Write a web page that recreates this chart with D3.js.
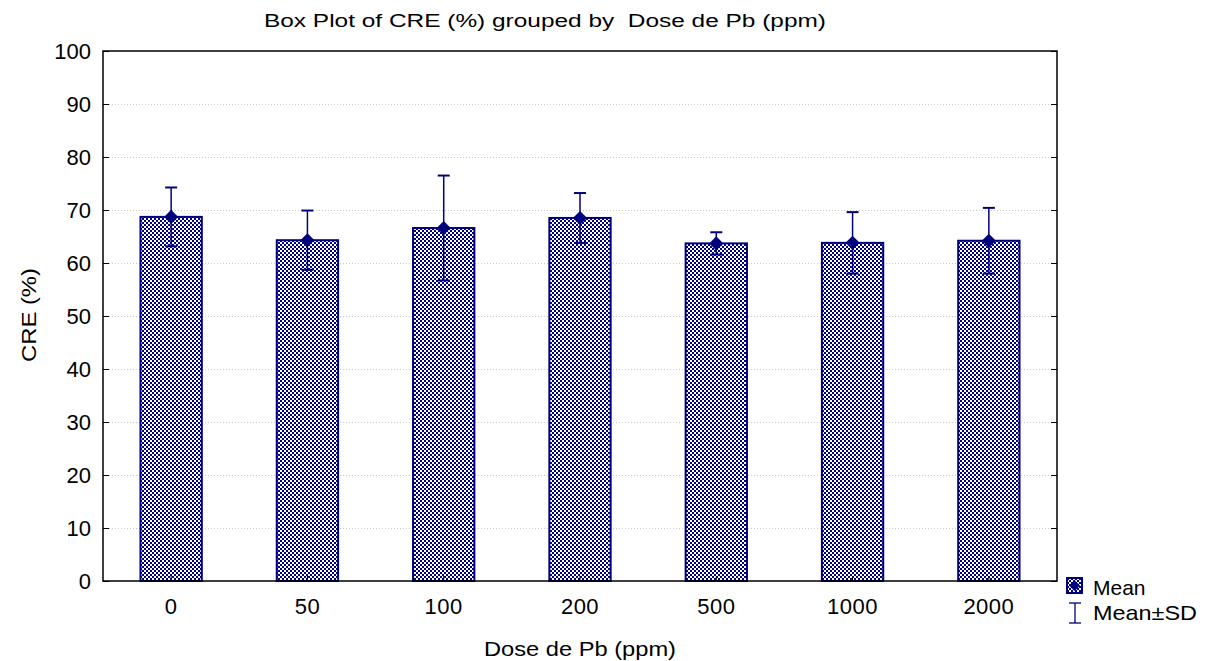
<!DOCTYPE html>
<html>
<head>
<meta charset="utf-8">
<title>Box Plot of CRE (%)</title>
<script src="https://d3js.org/d3.v7.min.js"></script>
<style>
  body { margin: 0; background: #fff; }
  text { font-family: "Liberation Sans", Arial, sans-serif; fill: #000; }
</style>
</head>
<body>
<script>
const width = 1205;
const height = 661;
const marginTop = 51;
const marginRight = 148;
const marginBottom = 80;
const marginLeft = 103;

// data
const doses = ["0", "50", "100", "200", "500", "1000", "2000"];
const means = [68.7, 64.3, 66.6, 68.5, 63.7, 63.8, 64.2];
const sds = [5.55, 5.6, 9.9, 4.7, 2.1, 5.8, 6.2];
const yTicks = [0, 10, 20, 30, 40, 50, 60, 70, 80, 90, 100];

const navy = "#00007f";

const svg = d3.select("body").append("svg")
    .attr("width", width)
    .attr("height", height);

// checker fill like the original
const defs = svg.append("defs");
const pat = defs.append("pattern")
    .attr("id", "checker")
    .attr("patternUnits", "userSpaceOnUse")
    .attr("width", 4).attr("height", 4);
pat.append("rect").attr("width", 4).attr("height", 4).attr("fill", "#fff");
pat.append("rect").attr("width", 2).attr("height", 2).attr("fill", navy);
pat.append("rect").attr("x", 2).attr("y", 2).attr("width", 2).attr("height", 2).attr("fill", navy);

const x = d3.scaleBand()
    .domain(doses)
    .range([marginLeft, width - marginRight])
    .paddingInner(0.55)
    .paddingOuter(0.275);

const y = d3.scaleLinear()
    .domain([0, 100])
    .range([height - marginBottom, marginTop]);

// grid lines
svg.append("g")
  .selectAll("line")
  .data(yTicks.filter(d => d > 0 && d < 100))
  .join("line")
    .attr("x1", marginLeft)
    .attr("x2", width - marginRight)
    .attr("y1", d => y(d) + 0.5)
    .attr("y2", d => y(d) + 0.5)
    .attr("stroke", "#c8c8c8")
    .attr("stroke-dasharray", "1,2");

// bars
svg.append("g")
  .selectAll("rect")
  .data(doses)
  .join("rect")
    .attr("x", d => x(d))
    .attr("y", (d, i) => y(means[i]))
    .attr("width", x.bandwidth())
    .attr("height", (d, i) => y(0) - y(means[i]))
    .attr("fill", "url(#checker)")
    .attr("stroke", navy)
    .attr("stroke-width", 2);

// error bars
const err = svg.append("g").attr("stroke", navy).attr("stroke-width", 1.5);
doses.forEach((d, i) => {
  const cx = x(d) + x.bandwidth() / 2;
  const lo = y(means[i] - sds[i]);
  const hi = y(means[i] + sds[i]);
  err.append("line").attr("x1", cx).attr("x2", cx).attr("y1", lo).attr("y2", hi);
  err.append("line").attr("x1", cx - 6).attr("x2", cx + 6).attr("y1", hi).attr("y2", hi).attr("stroke-width", 2);
  err.append("line").attr("x1", cx - 6).attr("x2", cx + 6).attr("y1", lo).attr("y2", lo).attr("stroke-width", 2);
});

// mean markers
svg.append("g")
  .selectAll("path")
  .data(doses)
  .join("path")
    .attr("d", d3.symbol(d3.symbolSquare, 100))
    .attr("transform", (d, i) => `translate(${x(d) + x.bandwidth() / 2},${y(means[i])}) rotate(45)`)
    .attr("fill", navy);

// frame
svg.append("rect")
    .attr("x", marginLeft)
    .attr("y", marginTop)
    .attr("width", width - marginRight - marginLeft)
    .attr("height", height - marginBottom - marginTop)
    .attr("fill", "none")
    .attr("stroke", "#000")
    .attr("stroke-width", 1.5);

// axes (ticks inward)
const yAxis = svg.append("g")
    .attr("transform", `translate(${marginLeft},0)`)
    .call(d3.axisLeft(y).tickValues(yTicks).tickSize(-6).tickPadding(12));
yAxis.select(".domain").remove();
yAxis.selectAll("text").style("font-size", "22px");

const yAxisR = svg.append("g")
    .attr("transform", `translate(${width - marginRight},0)`)
    .call(d3.axisRight(y).tickValues(yTicks).tickSize(-6).tickFormat(""));
yAxisR.select(".domain").remove();

const xAxis = svg.append("g")
    .attr("transform", `translate(0,${height - marginBottom})`)
    .call(d3.axisBottom(x).tickSize(-5).tickPadding(17));
xAxis.select(".domain").remove();
xAxis.selectAll("text").style("font-size", "22px").attr("letter-spacing", "0.5");

// title and labels
svg.append("text")
    .attr("x", 264).attr("y", 27)
    .attr("textLength", 562)
    .attr("lengthAdjust", "spacingAndGlyphs")
    .style("font-size", "18px")
    .style("white-space", "pre")
    .text("Box Plot of CRE (%) grouped by  Dose de Pb (ppm)");

svg.append("text")
    .attr("x", 484)
    .attr("y", 656)
    .attr("textLength", 192)
    .attr("lengthAdjust", "spacingAndGlyphs")
    .style("font-size", "21px")
    .text("Dose de Pb (ppm)");

svg.append("text")
    .attr("transform", `translate(36,362) rotate(-90)`)
    .attr("textLength", 94)
    .attr("lengthAdjust", "spacingAndGlyphs")
    .style("font-size", "21px")
    .text("CRE (%)");

// legend
const lg = svg.append("g").attr("transform", "translate(1067,578)");
lg.append("rect").attr("x", 0).attr("y", 0).attr("width", 15).attr("height", 15)
    .attr("fill", "url(#checker)").attr("stroke", navy).attr("stroke-width", 2);
lg.append("path").attr("d", d3.symbol(d3.symbolSquare, 60))
    .attr("transform", "translate(7.5,7.5) rotate(45)").attr("fill", navy);
lg.append("text").attr("x", 26).attr("y", 17).style("font-size", "21px").text("Mean");
const ib = lg.append("g").attr("stroke", navy).attr("stroke-width", 1.3);
ib.append("line").attr("x1", 8).attr("x2", 8).attr("y1", 25).attr("y2", 45);
ib.append("line").attr("x1", 2).attr("x2", 14).attr("y1", 25).attr("y2", 25);
ib.append("line").attr("x1", 2).attr("x2", 14).attr("y1", 45).attr("y2", 45);
lg.append("text").attr("x", 26).attr("y", 42)
    .attr("textLength", 104).attr("lengthAdjust", "spacingAndGlyphs")
    .style("font-size", "21px").text("Mean±SD");
</script>
</body>
</html>
